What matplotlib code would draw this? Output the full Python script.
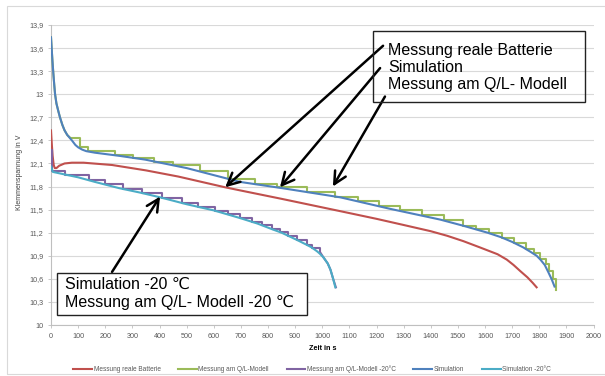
import matplotlib
matplotlib.use("Agg")
from matplotlib import pyplot as plt
from matplotlib.patches import Rectangle

# data
# Messung reale Batterie
red_t = [0, 3, 6, 10, 14, 20, 30, 50, 77, 120, 225, 350, 469, 642, 697, 850, 1066, 1200, 1300, 1399, 1460, 1520,
         1580, 1646, 1680, 1705, 1730, 1756, 1775, 1790]
red_v = [12.53, 12.35, 12.2, 12.08, 12.04, 12.04, 12.07, 12.10, 12.11, 12.11, 12.08, 12.01, 11.93, 11.79, 11.75, 11.64,
         11.48, 11.38, 11.30, 11.22, 11.16, 11.09, 11.01, 10.92, 10.85, 10.78, 10.70, 10.62, 10.55, 10.49]

# Simulation
blue_t = [0, 2, 5, 8, 12, 15, 20, 27, 33, 42, 50, 60, 77, 90, 100, 115, 130, 162, 250, 347, 500, 642, 697, 850, 1066,
          1250, 1435, 1520, 1609, 1660, 1700, 1740, 1768, 1790, 1804, 1820, 1834, 1846, 1856]
blue_v = [13.74, 13.62, 13.45, 13.3, 13.12, 13.0, 12.88, 12.78, 12.7, 12.6, 12.53, 12.47, 12.4, 12.34, 12.31, 12.28,
          12.26, 12.24, 12.20, 12.15, 12.04, 11.91, 11.86, 11.78, 11.66, 11.51, 11.37, 11.29, 11.20, 11.14, 11.08, 11.01,
          10.95, 10.90, 10.85, 10.78, 10.68, 10.59, 10.50]

# Messung am Q/L-Modell (smooth start, then stairs)
green_t0 = [0, 2, 5, 8, 12, 15, 20, 27, 33, 42, 50, 60, 72]
green_v0 = [13.74, 13.62, 13.45, 13.3, 13.12, 13.0, 12.88, 12.78, 12.7, 12.6, 12.53, 12.47, 12.43]
green_t = [72, 107, 136, 236, 302, 380, 450, 550, 653, 753, 833, 944, 1048, 1133, 1210, 1288, 1369, 1447,
           1517, 1565, 1613, 1664, 1705, 1749, 1779, 1804, 1823, 1834, 1849, 1863]
green_v = [12.43, 12.31, 12.26, 12.21, 12.17, 12.12, 12.08, 12.00, 11.90, 11.83, 11.79, 11.73, 11.67, 11.61, 11.55, 11.49,
           11.43, 11.36, 11.29, 11.25, 11.20, 11.13, 11.07, 10.99, 10.93, 10.86, 10.79, 10.70, 10.60, 10.45]

# Simulation -20°C
aqua_t = [0, 7, 100, 162, 250, 330, 402, 500, 600, 697, 760, 819, 850, 880, 910, 944, 960, 980, 990, 1004, 1020, 1030,
          1040, 1048]
aqua_v = [12.06, 11.99, 11.92, 11.86, 11.78, 11.72, 11.66, 11.57, 11.49, 11.39, 11.32, 11.24, 11.20, 11.15, 11.10, 11.04,
          11.01, 10.96, 10.93, 10.88, 10.80, 10.72, 10.60, 10.49]

# Messung am Q/L-Modell -20°C (stairs, then smooth end)
purple_t = [0, 5, 52, 140, 199, 266, 336, 410, 483, 542, 605, 653, 697, 742, 779, 815, 845, 875, 908, 945, 963, 993]
purple_v = [12.28, 12.00, 11.95, 11.88, 11.83, 11.77, 11.71, 11.65, 11.59, 11.54, 11.48, 11.44, 11.39, 11.34, 11.30, 11.25,
            11.21, 11.16, 11.11, 11.04, 11.00, 10.94]
purple_t1 = [993, 1004, 1020, 1030, 1040, 1050]
purple_v1 = [10.94, 10.88, 10.80, 10.72, 10.60, 10.49]

y_ticks = [10, 10.3, 10.6, 10.9, 11.2, 11.5, 11.8, 12.1, 12.4, 12.7, 13, 13.3, 13.6, 13.9]
y_labels = ["10", "10,3", "10,6", "10,9", "11,2", "11,5", "11,8", "12,1", "12,4", "12,7", "13", "13,3", "13,6", "13,9"]
x_ticks = list(range(0, 2001, 100))

W, H = 605, 376


def fx(px):
    return px / W


def fy(py):
    return 1 - py / H


plt.rcParams['font.family'] = ['Liberation Sans', 'DejaVu Sans']

fig = plt.figure(figsize=(6.05, 3.76), dpi=100)
ax = fig.add_axes([fx(51), fy(325), fx(593.6) - fx(51), fy(25) - fy(325)])

# outer chart border
fig.patches.append(Rectangle((fx(7), fy(374)), 1, 0.98, transform=fig.transFigure,
                             fill=False, edgecolor="#d9d9d9", lw=0.8))

lw = 1.5
ax.plot(red_t, red_v, color="#c0504d", lw=lw, label="Messung reale Batterie", zorder=3)
ax.plot(green_t0, green_v0, color="#9bbb59", lw=lw, zorder=3)
ax.step(green_t, green_v, where="post", color="#9bbb59", lw=lw, label="Messung am Q/L-Modell", zorder=3)
ax.step(purple_t, purple_v, where="post", color="#8064a2", lw=lw, label="Messung am Q/L-Modell -20°C", zorder=3)
ax.plot(purple_t1, purple_v1, color="#8064a2", lw=lw, zorder=3)
ax.plot(blue_t, blue_v, color="#4f81bd", lw=lw, label="Simulation", zorder=4)
ax.plot(aqua_t, aqua_v, color="#4bacc6", lw=lw, label="Simulation -20°C", zorder=4)

ax.set_xlim(0, 2000)
ax.set_ylim(10, 13.9)
ax.set_xticks(x_ticks)
ax.set_yticks(y_ticks)
ax.set_yticklabels(y_labels)
ax.grid(True, axis="y", color="#d9d9d9", lw=0.8)
ax.set_axisbelow(True)
for s in ["top", "right"]:
    ax.spines[s].set_visible(False)
for s in ["left", "bottom"]:
    ax.spines[s].set_color("#bfbfbf")
    ax.spines[s].set_linewidth(0.8)
ax.tick_params(axis="both", direction="out", length=2.5, width=0.6, color="#bfbfbf",
               labelsize=5.2, labelcolor="#595959", pad=3)

ax.set_xlabel("Zeit in s", fontsize=5.2, fontweight="bold", labelpad=4)
fig.text(fx(20), fy(172), "Klemmenspannung in V", rotation=90, fontsize=5,
         ha="center", va="center", color="#404040")

ax.legend(loc="center", bbox_to_anchor=(fx(312), fy(369)), bbox_transform=fig.transFigure,
          ncol=5, frameon=False, fontsize=4.7, handlelength=2.9, handletextpad=0.2,
          columnspacing=2.7, labelcolor="#595959")

# annotation boxes
fs = 11.5
fig.patches.append(Rectangle((fx(373), fy(102)), fx(585) - fx(373), fy(31) - fy(102),
                             transform=fig.transFigure, fill=False, edgecolor="#222222", lw=1.0, zorder=5))
for txt, py in [("Messung reale Batterie", 50), ("Simulation", 67), ("Messung am Q/L- Modell", 85)]:
    fig.text(fx(388), fy(py), txt, fontsize=fs, ha="left", va="center")

fig.patches.append(Rectangle((fx(57), fy(315)), fx(307) - fx(57), fy(273) - fy(315),
                             transform=fig.transFigure, facecolor="white", edgecolor="#222222", lw=1.0, zorder=5))
for txt, py in [("Simulation -20 ℃", 284), ("Messung am Q/L- Modell -20 ℃", 303)]:
    fig.text(fx(65), fy(py), txt, fontsize=fs, ha="left", va="center", zorder=6)

arrows = [((642, 11.79), (1224, 13.63)),
          ((844, 11.79), (1213, 13.34)),
          ((1039, 11.80), (1231, 12.97)),
          ((402, 11.67), (225, 10.69))]
for tip, start in arrows:
    ax.annotate("", xy=tip, xytext=start, annotation_clip=False,
                arrowprops=dict(arrowstyle="->", lw=1.8, color="black", mutation_scale=22,
                                shrinkA=0, shrinkB=0), zorder=7)

fig.savefig("out.png", dpi=100)
